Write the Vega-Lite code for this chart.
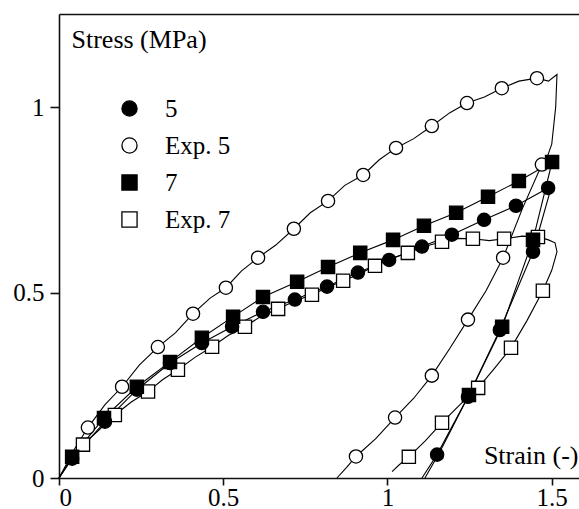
{
  "$schema": "https://vega.github.io/schema/vega-lite/v6.json",
  "width": 520,
  "height": 464,
  "autosize": {"type": "none"},
  "padding": {"left": 59, "top": 14, "right": 0, "bottom": 31},
  "background": "white",
  "config": {
    "view": {"stroke": null},
    "axis": {
      "grid": false,
      "domainColor": "#111",
      "domainWidth": 1.6,
      "tickColor": "#111",
      "tickWidth": 1.6,
      "labelFont": "Liberation Serif",
      "labelFontSize": 25,
      "labelColor": "black",
      "titleFont": "Liberation Serif",
      "titleFontSize": 26,
      "titleFontWeight": "normal",
      "titleColor": "black"
    },
    "legend": {
      "labelFont": "Liberation Serif",
      "labelFontSize": 25,
      "labelColor": "black"
    }
  },
  "datasets": {
    "curves": [
      {"series": "5", "seq": 0, "strain": 0, "stress": 0},
      {"series": "5", "seq": 1, "strain": 0.040, "stress": 0.052},
      {"series": "5", "seq": 2, "strain": 0.140, "stress": 0.152},
      {"series": "5", "seq": 3, "strain": 0.237, "stress": 0.238},
      {"series": "5", "seq": 4, "strain": 0.338, "stress": 0.310},
      {"series": "5", "seq": 5, "strain": 0.435, "stress": 0.364},
      {"series": "5", "seq": 6, "strain": 0.527, "stress": 0.408},
      {"series": "5", "seq": 7, "strain": 0.621, "stress": 0.448},
      {"series": "5", "seq": 8, "strain": 0.718, "stress": 0.481},
      {"series": "5", "seq": 9, "strain": 0.816, "stress": 0.516},
      {"series": "5", "seq": 10, "strain": 0.910, "stress": 0.554},
      {"series": "5", "seq": 11, "strain": 1.005, "stress": 0.588},
      {"series": "5", "seq": 12, "strain": 1.105, "stress": 0.624},
      {"series": "5", "seq": 13, "strain": 1.196, "stress": 0.656},
      {"series": "5", "seq": 14, "strain": 1.294, "stress": 0.696},
      {"series": "5", "seq": 15, "strain": 1.391, "stress": 0.734},
      {"series": "5", "seq": 16, "strain": 1.489, "stress": 0.782},
      {"series": "5", "seq": 17, "strain": 1.500, "stress": 0.788},
      {"series": "5", "seq": 18, "strain": 1.443, "stress": 0.610},
      {"series": "5", "seq": 19, "strain": 1.342, "stress": 0.399},
      {"series": "5", "seq": 20, "strain": 1.245, "stress": 0.219},
      {"series": "5", "seq": 21, "strain": 1.151, "stress": 0.063},
      {"series": "5", "seq": 22, "strain": 1.105, "stress": 0.0},

      {"series": "7", "seq": 0, "strain": 0, "stress": 0},
      {"series": "7", "seq": 1, "strain": 0.040, "stress": 0.057},
      {"series": "7", "seq": 2, "strain": 0.137, "stress": 0.162},
      {"series": "7", "seq": 3, "strain": 0.237, "stress": 0.246},
      {"series": "7", "seq": 4, "strain": 0.338, "stress": 0.313},
      {"series": "7", "seq": 5, "strain": 0.435, "stress": 0.378},
      {"series": "7", "seq": 6, "strain": 0.530, "stress": 0.435},
      {"series": "7", "seq": 7, "strain": 0.621, "stress": 0.488},
      {"series": "7", "seq": 8, "strain": 0.725, "stress": 0.529},
      {"series": "7", "seq": 9, "strain": 0.819, "stress": 0.569},
      {"series": "7", "seq": 10, "strain": 0.917, "stress": 0.607},
      {"series": "7", "seq": 11, "strain": 1.017, "stress": 0.642},
      {"series": "7", "seq": 12, "strain": 1.111, "stress": 0.680},
      {"series": "7", "seq": 13, "strain": 1.209, "stress": 0.715},
      {"series": "7", "seq": 14, "strain": 1.306, "stress": 0.758},
      {"series": "7", "seq": 15, "strain": 1.400, "stress": 0.801},
      {"series": "7", "seq": 16, "strain": 1.501, "stress": 0.852},
      {"series": "7", "seq": 17, "strain": 1.443, "stress": 0.642},
      {"series": "7", "seq": 18, "strain": 1.349, "stress": 0.408},
      {"series": "7", "seq": 19, "strain": 1.248, "stress": 0.224},
      {"series": "7", "seq": 20, "strain": 1.158, "stress": 0.068},
      {"series": "7", "seq": 21, "strain": 1.114, "stress": 0.0},

      {"series": "Exp. 5", "seq": 0, "strain": 0, "stress": 0},
      {"series": "Exp. 5", "seq": 1, "strain": 0.045, "stress": 0.075},
      {"series": "Exp. 5", "seq": 2, "strain": 0.088, "stress": 0.136},
      {"series": "Exp. 5", "seq": 3, "strain": 0.140, "stress": 0.198},
      {"series": "Exp. 5", "seq": 4, "strain": 0.192, "stress": 0.246},
      {"series": "Exp. 5", "seq": 5, "strain": 0.245, "stress": 0.305},
      {"series": "Exp. 5", "seq": 6, "strain": 0.301, "stress": 0.353},
      {"series": "Exp. 5", "seq": 7, "strain": 0.355, "stress": 0.392},
      {"series": "Exp. 5", "seq": 8, "strain": 0.408, "stress": 0.443},
      {"series": "Exp. 5", "seq": 9, "strain": 0.460, "stress": 0.485},
      {"series": "Exp. 5", "seq": 10, "strain": 0.508, "stress": 0.513},
      {"series": "Exp. 5", "seq": 11, "strain": 0.555, "stress": 0.558},
      {"series": "Exp. 5", "seq": 12, "strain": 0.606, "stress": 0.594},
      {"series": "Exp. 5", "seq": 13, "strain": 0.660, "stress": 0.628},
      {"series": "Exp. 5", "seq": 14, "strain": 0.715, "stress": 0.672},
      {"series": "Exp. 5", "seq": 15, "strain": 0.765, "stress": 0.715},
      {"series": "Exp. 5", "seq": 16, "strain": 0.819, "stress": 0.747},
      {"series": "Exp. 5", "seq": 17, "strain": 0.870, "stress": 0.789},
      {"series": "Exp. 5", "seq": 18, "strain": 0.926, "stress": 0.817},
      {"series": "Exp. 5", "seq": 19, "strain": 0.975, "stress": 0.858},
      {"series": "Exp. 5", "seq": 20, "strain": 1.026, "stress": 0.890},
      {"series": "Exp. 5", "seq": 21, "strain": 1.080, "stress": 0.915},
      {"series": "Exp. 5", "seq": 22, "strain": 1.135, "stress": 0.949},
      {"series": "Exp. 5", "seq": 23, "strain": 1.190, "stress": 0.985},
      {"series": "Exp. 5", "seq": 24, "strain": 1.242, "stress": 1.011},
      {"series": "Exp. 5", "seq": 25, "strain": 1.295, "stress": 1.027},
      {"series": "Exp. 5", "seq": 26, "strain": 1.348, "stress": 1.051},
      {"series": "Exp. 5", "seq": 27, "strain": 1.400, "stress": 1.070},
      {"series": "Exp. 5", "seq": 28, "strain": 1.455, "stress": 1.078},
      {"series": "Exp. 5", "seq": 29, "strain": 1.490, "stress": 1.070},
      {"series": "Exp. 5", "seq": 30, "strain": 1.516, "stress": 1.088},
      {"series": "Exp. 5", "seq": 31, "strain": 1.512, "stress": 1.000},
      {"series": "Exp. 5", "seq": 32, "strain": 1.500, "stress": 0.900},
      {"series": "Exp. 5", "seq": 33, "strain": 1.488, "stress": 0.870},
      {"series": "Exp. 5", "seq": 34, "strain": 1.470, "stress": 0.845},
      {"series": "Exp. 5", "seq": 35, "strain": 1.410, "stress": 0.725},
      {"series": "Exp. 5", "seq": 36, "strain": 1.352, "stress": 0.594},
      {"series": "Exp. 5", "seq": 37, "strain": 1.300, "stress": 0.505},
      {"series": "Exp. 5", "seq": 38, "strain": 1.245, "stress": 0.427},
      {"series": "Exp. 5", "seq": 39, "strain": 1.190, "stress": 0.350},
      {"series": "Exp. 5", "seq": 40, "strain": 1.135, "stress": 0.276},
      {"series": "Exp. 5", "seq": 41, "strain": 1.080, "stress": 0.215},
      {"series": "Exp. 5", "seq": 42, "strain": 1.023, "stress": 0.163},
      {"series": "Exp. 5", "seq": 43, "strain": 0.965, "stress": 0.107},
      {"series": "Exp. 5", "seq": 44, "strain": 0.904, "stress": 0.058},
      {"series": "Exp. 5", "seq": 45, "strain": 0.875, "stress": 0.028},
      {"series": "Exp. 5", "seq": 46, "strain": 0.846, "stress": 0.0},

      {"series": "Exp. 7", "seq": 0, "strain": 0, "stress": 0},
      {"series": "Exp. 7", "seq": 1, "strain": 0.035, "stress": 0.048},
      {"series": "Exp. 7", "seq": 2, "strain": 0.073, "stress": 0.090},
      {"series": "Exp. 7", "seq": 3, "strain": 0.120, "stress": 0.128},
      {"series": "Exp. 7", "seq": 4, "strain": 0.170, "stress": 0.170},
      {"series": "Exp. 7", "seq": 5, "strain": 0.220, "stress": 0.205},
      {"series": "Exp. 7", "seq": 6, "strain": 0.271, "stress": 0.233},
      {"series": "Exp. 7", "seq": 7, "strain": 0.315, "stress": 0.265},
      {"series": "Exp. 7", "seq": 8, "strain": 0.362, "stress": 0.292},
      {"series": "Exp. 7", "seq": 9, "strain": 0.415, "stress": 0.326},
      {"series": "Exp. 7", "seq": 10, "strain": 0.466, "stress": 0.354},
      {"series": "Exp. 7", "seq": 11, "strain": 0.515, "stress": 0.384},
      {"series": "Exp. 7", "seq": 12, "strain": 0.566, "stress": 0.408},
      {"series": "Exp. 7", "seq": 13, "strain": 0.615, "stress": 0.436},
      {"series": "Exp. 7", "seq": 14, "strain": 0.667, "stress": 0.456},
      {"series": "Exp. 7", "seq": 15, "strain": 0.720, "stress": 0.478},
      {"series": "Exp. 7", "seq": 16, "strain": 0.770, "stress": 0.494},
      {"series": "Exp. 7", "seq": 17, "strain": 0.820, "stress": 0.515},
      {"series": "Exp. 7", "seq": 18, "strain": 0.865, "stress": 0.532},
      {"series": "Exp. 7", "seq": 19, "strain": 0.915, "stress": 0.550},
      {"series": "Exp. 7", "seq": 20, "strain": 0.962, "stress": 0.572},
      {"series": "Exp. 7", "seq": 21, "strain": 1.010, "stress": 0.592},
      {"series": "Exp. 7", "seq": 22, "strain": 1.062, "stress": 0.607},
      {"series": "Exp. 7", "seq": 23, "strain": 1.115, "stress": 0.625},
      {"series": "Exp. 7", "seq": 24, "strain": 1.166, "stress": 0.637},
      {"series": "Exp. 7", "seq": 25, "strain": 1.210, "stress": 0.646},
      {"series": "Exp. 7", "seq": 26, "strain": 1.260, "stress": 0.645},
      {"series": "Exp. 7", "seq": 27, "strain": 1.310, "stress": 0.640},
      {"series": "Exp. 7", "seq": 28, "strain": 1.355, "stress": 0.645},
      {"series": "Exp. 7", "seq": 29, "strain": 1.410, "stress": 0.652},
      {"series": "Exp. 7", "seq": 30, "strain": 1.458, "stress": 0.650},
      {"series": "Exp. 7", "seq": 31, "strain": 1.490, "stress": 0.642},
      {"series": "Exp. 7", "seq": 32, "strain": 1.510, "stress": 0.634},
      {"series": "Exp. 7", "seq": 33, "strain": 1.516, "stress": 0.610},
      {"series": "Exp. 7", "seq": 34, "strain": 1.500, "stress": 0.560},
      {"series": "Exp. 7", "seq": 35, "strain": 1.473, "stress": 0.505},
      {"series": "Exp. 7", "seq": 36, "strain": 1.425, "stress": 0.425},
      {"series": "Exp. 7", "seq": 37, "strain": 1.376, "stress": 0.351},
      {"series": "Exp. 7", "seq": 38, "strain": 1.325, "stress": 0.295},
      {"series": "Exp. 7", "seq": 39, "strain": 1.276, "stress": 0.243},
      {"series": "Exp. 7", "seq": 40, "strain": 1.220, "stress": 0.197},
      {"series": "Exp. 7", "seq": 41, "strain": 1.166, "stress": 0.149},
      {"series": "Exp. 7", "seq": 42, "strain": 1.115, "stress": 0.100},
      {"series": "Exp. 7", "seq": 43, "strain": 1.065, "stress": 0.057},
      {"series": "Exp. 7", "seq": 44, "strain": 1.035, "stress": 0.035},
      {"series": "Exp. 7", "seq": 45, "strain": 1.014, "stress": 0.017}
    ],
    "markers": [
      {"series": "Exp. 7", "strain": 0.073, "stress": 0.090},
      {"series": "Exp. 7", "strain": 0.170, "stress": 0.170},
      {"series": "Exp. 7", "strain": 0.271, "stress": 0.233},
      {"series": "Exp. 7", "strain": 0.362, "stress": 0.292},
      {"series": "Exp. 7", "strain": 0.466, "stress": 0.354},
      {"series": "Exp. 7", "strain": 0.566, "stress": 0.408},
      {"series": "Exp. 7", "strain": 0.667, "stress": 0.456},
      {"series": "Exp. 7", "strain": 0.770, "stress": 0.494},
      {"series": "Exp. 7", "strain": 0.865, "stress": 0.532},
      {"series": "Exp. 7", "strain": 0.962, "stress": 0.572},
      {"series": "Exp. 7", "strain": 1.062, "stress": 0.607},
      {"series": "Exp. 7", "strain": 1.166, "stress": 0.637},
      {"series": "Exp. 7", "strain": 1.260, "stress": 0.645},
      {"series": "Exp. 7", "strain": 1.355, "stress": 0.645},
      {"series": "Exp. 7", "strain": 1.458, "stress": 0.650},
      {"series": "Exp. 7", "strain": 1.473, "stress": 0.505},
      {"series": "Exp. 7", "strain": 1.376, "stress": 0.351},
      {"series": "Exp. 7", "strain": 1.276, "stress": 0.243},
      {"series": "Exp. 7", "strain": 1.166, "stress": 0.149},
      {"series": "Exp. 7", "strain": 1.065, "stress": 0.057},

      {"series": "Exp. 5", "strain": 0.088, "stress": 0.136},
      {"series": "Exp. 5", "strain": 0.192, "stress": 0.246},
      {"series": "Exp. 5", "strain": 0.301, "stress": 0.353},
      {"series": "Exp. 5", "strain": 0.408, "stress": 0.443},
      {"series": "Exp. 5", "strain": 0.508, "stress": 0.513},
      {"series": "Exp. 5", "strain": 0.606, "stress": 0.594},
      {"series": "Exp. 5", "strain": 0.715, "stress": 0.672},
      {"series": "Exp. 5", "strain": 0.819, "stress": 0.747},
      {"series": "Exp. 5", "strain": 0.926, "stress": 0.817},
      {"series": "Exp. 5", "strain": 1.026, "stress": 0.890},
      {"series": "Exp. 5", "strain": 1.135, "stress": 0.949},
      {"series": "Exp. 5", "strain": 1.242, "stress": 1.011},
      {"series": "Exp. 5", "strain": 1.348, "stress": 1.051},
      {"series": "Exp. 5", "strain": 1.455, "stress": 1.078},
      {"series": "Exp. 5", "strain": 1.470, "stress": 0.845},
      {"series": "Exp. 5", "strain": 1.352, "stress": 0.594},
      {"series": "Exp. 5", "strain": 1.245, "stress": 0.427},
      {"series": "Exp. 5", "strain": 1.135, "stress": 0.276},
      {"series": "Exp. 5", "strain": 1.023, "stress": 0.163},
      {"series": "Exp. 5", "strain": 0.904, "stress": 0.058},

      {"series": "7", "strain": 0.040, "stress": 0.057},
      {"series": "7", "strain": 0.137, "stress": 0.162},
      {"series": "7", "strain": 0.237, "stress": 0.246},
      {"series": "7", "strain": 0.338, "stress": 0.313},
      {"series": "7", "strain": 0.435, "stress": 0.378},
      {"series": "7", "strain": 0.530, "stress": 0.435},
      {"series": "7", "strain": 0.621, "stress": 0.488},
      {"series": "7", "strain": 0.725, "stress": 0.529},
      {"series": "7", "strain": 0.819, "stress": 0.569},
      {"series": "7", "strain": 0.917, "stress": 0.607},
      {"series": "7", "strain": 1.017, "stress": 0.642},
      {"series": "7", "strain": 1.111, "stress": 0.680},
      {"series": "7", "strain": 1.209, "stress": 0.715},
      {"series": "7", "strain": 1.306, "stress": 0.758},
      {"series": "7", "strain": 1.400, "stress": 0.801},
      {"series": "7", "strain": 1.501, "stress": 0.852},
      {"series": "7", "strain": 1.443, "stress": 0.642},
      {"series": "7", "strain": 1.349, "stress": 0.408},
      {"series": "7", "strain": 1.248, "stress": 0.224},

      {"series": "5", "strain": 0.040, "stress": 0.052},
      {"series": "5", "strain": 0.140, "stress": 0.152},
      {"series": "5", "strain": 0.237, "stress": 0.238},
      {"series": "5", "strain": 0.338, "stress": 0.310},
      {"series": "5", "strain": 0.435, "stress": 0.364},
      {"series": "5", "strain": 0.527, "stress": 0.408},
      {"series": "5", "strain": 0.621, "stress": 0.448},
      {"series": "5", "strain": 0.718, "stress": 0.481},
      {"series": "5", "strain": 0.816, "stress": 0.516},
      {"series": "5", "strain": 0.910, "stress": 0.554},
      {"series": "5", "strain": 1.005, "stress": 0.588},
      {"series": "5", "strain": 1.105, "stress": 0.624},
      {"series": "5", "strain": 1.196, "stress": 0.656},
      {"series": "5", "strain": 1.294, "stress": 0.696},
      {"series": "5", "strain": 1.391, "stress": 0.734},
      {"series": "5", "strain": 1.489, "stress": 0.782},
      {"series": "5", "strain": 1.443, "stress": 0.610},
      {"series": "5", "strain": 1.342, "stress": 0.399},
      {"series": "5", "strain": 1.245, "stress": 0.219},
      {"series": "5", "strain": 1.151, "stress": 0.063}
    ]
  },
  "layer": [
    {
      "data": {"name": "curves"},
      "mark": {"type": "line", "color": "black", "strokeWidth": 1.1},
      "encoding": {
        "x": {
          "field": "strain", "type": "quantitative",
          "scale": {"domain": [0, 1.583], "nice": false, "zero": false},
          "axis": {
            "values": [0, 0.5, 1, 1.5], "format": "~g",
            "tickSize": 7, "labelPadding": 0,
            "title": "Strain (-)", "titleAlign": "right", "titleBaseline": "alphabetic",
            "titleX": 519, "titleY": -15
          }
        },
        "y": {
          "field": "stress", "type": "quantitative",
          "scale": {"domain": [0, 1.251], "nice": false, "zero": false},
          "axis": {
            "values": [0, 0.5, 1], "format": "~g",
            "tickSize": 9, "labelPadding": 6,
            "title": "Stress (MPa)", "titleAngle": 0, "titleAlign": "left", "titleBaseline": "alphabetic",
            "titleX": 12, "titleY": 33
          }
        },
        "detail": {"field": "series"},
        "order": {"field": "seq", "type": "quantitative"}
      }
    },
    {
      "data": {"name": "markers"},
      "mark": {"type": "point", "filled": true, "stroke": "black", "strokeWidth": 1.3, "opacity": 1, "fillOpacity": 1, "size": 175},
      "encoding": {
        "x": {
          "field": "strain", "type": "quantitative",
          "scale": {"domain": [0, 1.583], "nice": false, "zero": false},
          "axis": {"orient": "top", "labels": false, "ticks": false, "title": null, "domain": true}
        },
        "y": {"field": "stress", "type": "quantitative"},
        "shape": {
          "field": "series", "type": "nominal",
          "scale": {"domain": ["5", "Exp. 5", "7", "Exp. 7"], "range": ["circle", "circle", "square", "square"]},
          "legend": {
            "title": null,
            "orient": "none",
            "legendX": 58,
            "legendY": 82,
            "padding": 0,
            "symbolSize": 230,
            "symbolStrokeColor": "black",
            "symbolStrokeWidth": 1.3,
            "symbolOpacity": 1,
            "labelOffset": 23,
            "rowPadding": 11,
            "labelLimit": 300,
            "encode": {
              "symbols": {
                "update": {
                  "fill": {"signal": "(datum.value == 'Exp. 5' || datum.value == 'Exp. 7') ? 'white' : 'black'"},
                  "stroke": {"value": "black"},
                  "strokeWidth": {"value": 1.3},
                  "opacity": {"value": 1}
                }
              }
            }
          }
        },
        "fill": {
          "field": "series", "type": "nominal",
          "scale": {"domain": ["5", "Exp. 5", "7", "Exp. 7"], "range": ["black", "white", "black", "white"]},
          "legend": {
            "title": null,
            "orient": "none",
            "legendX": 58,
            "legendY": 82,
            "padding": 0,
            "symbolSize": 230,
            "symbolStrokeColor": "black",
            "symbolStrokeWidth": 1.3,
            "symbolOpacity": 1,
            "labelOffset": 23,
            "rowPadding": 11,
            "labelLimit": 300,
            "encode": {
              "symbols": {
                "update": {
                  "fill": {"signal": "(datum.value == 'Exp. 5' || datum.value == 'Exp. 7') ? 'white' : 'black'"},
                  "stroke": {"value": "black"},
                  "strokeWidth": {"value": 1.3},
                  "opacity": {"value": 1}
                }
              }
            }
          }
        }
      }
    }
  ],
  "resolve": {"axis": {"x": "independent"}}
}
